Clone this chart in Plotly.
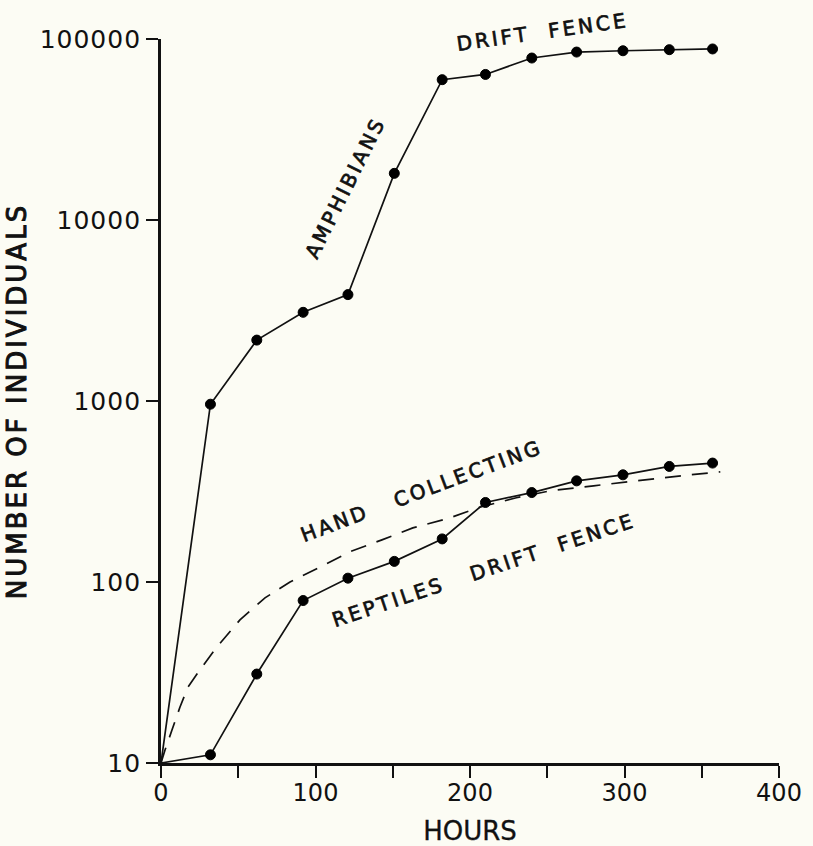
import plotly.graph_objects as go

hours = [0, 32, 62, 92, 121, 151, 182, 210, 240, 269, 299, 329, 357]
amphibians = [10, 960, 2170, 3090, 3870, 18100, 59600, 63700, 78500, 84700, 86100, 87300, 88100]
reptiles = [10, 11.1, 31.0, 79, 105, 130, 173, 275, 312, 362, 391, 435, 454]

hand_hours = [0, 2.6, 7.1, 12.3, 17.5, 25.2, 36.2, 51.1, 67.3, 83.5, 102.9, 122.3, 143, 163, 187, 205, 230, 252, 280, 312, 342, 362]
hand_counts = [10, 11.8, 15.2, 20.4, 26.3, 32.7, 43.8, 61.7, 81.7, 100, 121, 147, 171, 199, 226, 257, 292, 319, 340, 367, 391, 406]

x_ticks = [0, 50, 100, 150, 200, 250, 300, 350, 400]
x_labels = ["0", "", "100", "", "200", "", "300", "", "400"]
y_ticks = [10, 100, 1000, 10000, 100000]
y_labels = ["10", "100", "1000", "10000", "100000"]

ink = "#111111"
bg = "#FCFCF4"
font_family = "DejaVu Sans"

marker_sizes = [0] + [10] * (len(hours) - 1)

fig = go.Figure()
fig.add_trace(go.Scatter(x=hand_hours, y=hand_counts, mode="lines",
                         line=dict(color=ink, width=1.7, dash="16px,11px"),
                         showlegend=False, hoverinfo="skip"))
fig.add_trace(go.Scatter(x=hours, y=amphibians, mode="lines+markers",
                         line=dict(color=ink, width=1.7),
                         marker=dict(color="#000000", size=marker_sizes, opacity=1,
                                     line=dict(color="#000000", width=1)),
                         showlegend=False, cliponaxis=False))
fig.add_trace(go.Scatter(x=hours, y=reptiles, mode="lines+markers",
                         line=dict(color=ink, width=1.7),
                         marker=dict(color="#000000", size=marker_sizes, opacity=1,
                                     line=dict(color="#000000", width=1)),
                         showlegend=False, cliponaxis=False))

W, H = 813, 846
ml, mr, mt, mb = 161, 34, 39, 83
pw, ph = W - ml - mr, H - mt - mb

ann_font = dict(family=font_family, size=20, color=ink)
labels = [
    (542, 32, "DRIFT  FENCE", -8),
    (345, 188, "AMPHIBIANS", -63.5),
    (421, 491, "HAND   COLLECTING", -20.5),
    (484, 570, "REPTILES   DRIFT  FENCE", -18.5),
]
for px, py, txt, ang in labels:
    fig.add_annotation(x=(px - ml) / pw, y=1 - (py - mt) / ph, xref="paper", yref="paper",
                       text=txt, textangle=ang, showarrow=False,
                       font=ann_font, xanchor="center", yanchor="middle")

fig.update_layout(
    width=W, height=H,
    margin=dict(l=ml, r=mr, t=mt, b=mb, autoexpand=False),
    paper_bgcolor=bg, plot_bgcolor=bg,
    font=dict(family=font_family, color=ink),
    xaxis=dict(range=[0, 400], tickvals=x_ticks, ticktext=x_labels, automargin=False,
               showgrid=False, zeroline=False, showline=True, linecolor=ink, linewidth=2.8,
               ticks="outside", ticklen=12, tickwidth=2, tickcolor=ink, ticklabelstandoff=-6,
               tickfont=dict(size=24, family=font_family, color=ink),
               title=dict(text="HOURS", font=dict(size=26, family=font_family, color=ink), standoff=18)),
    yaxis=dict(type="log", range=[1, 5], tickvals=y_ticks, ticktext=y_labels, automargin=False,
               showgrid=False, zeroline=False, showline=True, linecolor=ink, linewidth=2.8,
               ticks="outside", ticklen=12, tickwidth=2, tickcolor=ink,
               tickfont=dict(size=25, family=font_family, color=ink),
               title=dict(text="NUMBER OF INDIVIDUALS",
                          font=dict(size=26, family=font_family, color=ink), standoff=12)),
)

post = ("var s=document.createElement('style');"
        "s.textContent='html,body{margin:0;padding:0;background:#FCFCF4;overflow:hidden}"
        " .annotation-text{letter-spacing:3px;stroke:#111111;stroke-width:0.7px}"
        " .ytitle{letter-spacing:3px;stroke:#111111;stroke-width:1px}"
        " .xtitle{stroke:#111111;stroke-width:0.3px}"
        " .ytick text{letter-spacing:1px}';"
        "document.head.appendChild(s);")

fig.write_html("out.html", post_script=post, config={"displayModeBar": False})
